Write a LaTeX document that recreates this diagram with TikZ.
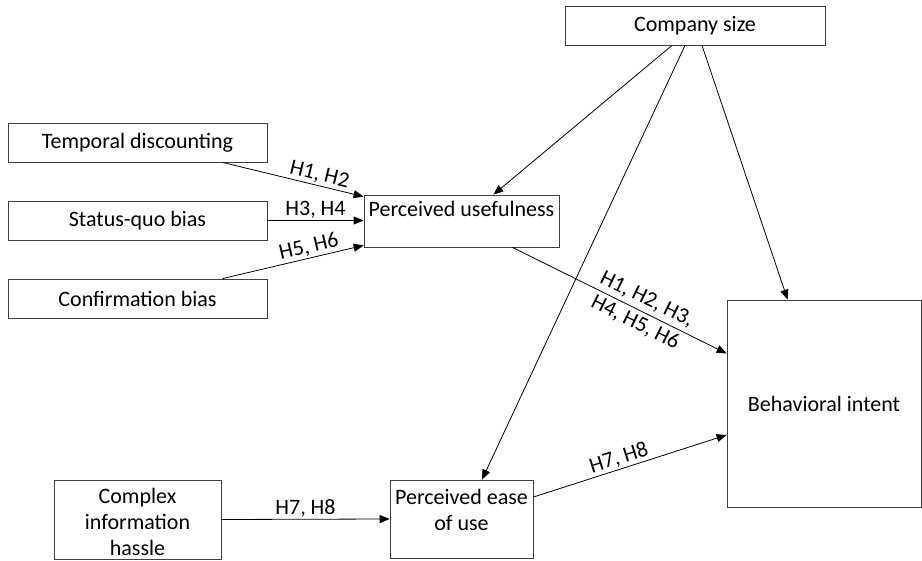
\documentclass[tikz,border=0pt]{standalone}
\usepackage{fontspec}
\setmainfont{Carlito}
\usetikzlibrary{arrows.meta,positioning}

\begin{document}
\begin{tikzpicture}[x=1pt,y=-1pt,font=\fontsize{22}{26}\selectfont,
  box/.style={draw=black!75,line width=0.8pt,inner sep=0pt,align=center},
  link/.style={line width=0.8pt,-{Triangle[length=10pt,width=8pt]}},
  hyp/.style={inner sep=1.5pt}]
  \useasboundingbox (0,0) rectangle (922,561);
  \node[box,minimum width=259pt,minimum height=39pt] (temp) at (137.5,142.5) {Temporal discounting};
  \node[box,minimum width=259pt,minimum height=39pt] (quo) at (137.5,220.5) {Status-quo bias};
  \node[box,minimum width=259pt,minimum height=39pt] (conf) at (137.5,298.5) {Confirmation bias};
  \node[box,minimum width=167pt,minimum height=79pt,text height=73pt] (hassle) at (137.5,519.5) {Complex\\information\\hassle};
  \node[box,minimum width=195pt,minimum height=52pt,text height=16pt,text depth=25pt] (useful) at (461.5,221) {Perceived usefulness};
  \node[box,minimum width=143pt,minimum height=78pt,text depth=18pt] (ease) at (461.5,519) {Perceived ease\\of use};
  \node[box,minimum width=260pt,minimum height=39pt] (size) at (695,25.5) {Company size};
  \node[box,minimum width=194pt,minimum height=207pt] (intent) at (824,403.5) {Behavioral intent};

  \draw[link] ([xshift=-45pt]temp.south east) -- ([yshift=-2pt]useful.north west)
    node[hyp,pos=0.67,above,sloped] {H1, H2};
  \draw[link] (quo.east) -- (quo.east -| useful.west)
    node[hyp,midway,above] {H3, H4};
  \draw[link] ([xshift=-45pt]conf.north east) -- ([yshift=2pt]useful.south west)
    node[hyp,pos=0.63,above,sloped] {H5, H6};
  \draw[link] ([xshift=-23pt]size.south) -- ([xshift=-66pt]useful.north east);
  \draw[link] ([xshift=-10pt]size.south) -- ([xshift=20.5pt]ease.north);
  \draw[link] ([xshift=7pt]size.south) -- ([xshift=61pt]intent.north west);
  \draw[link] ([xshift=-47pt]useful.south east) -- ([yshift=50pt]intent.west)
    node[pos=0.6,sloped,align=center,inner sep=0pt] {H1, H2, H3,\\H4, H5, H6};
  \draw[link] ([yshift=22pt]ease.east) -- ([yshift=-31.5pt]intent.west)
    node[hyp,pos=0.46,above,sloped] {H7, H8};
  \draw[link] (hassle.east) -- (ease.west)
    node[hyp,midway,above] {H7, H8};
\end{tikzpicture}
\end{document}
